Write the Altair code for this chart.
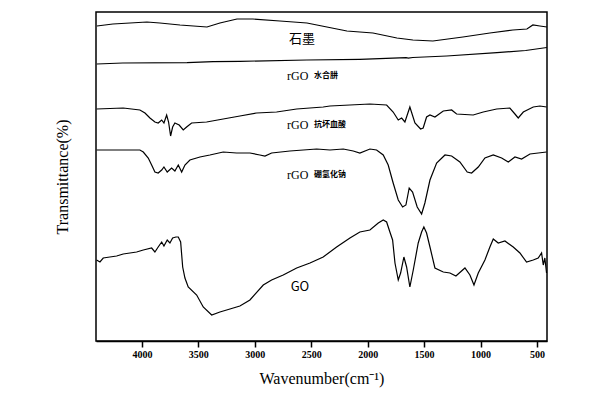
import altair as alt
import pandas as pd

# ---- data (wavenumber, relative transmittance offset) ----
wn_graphite = [4399, 4257, 4106, 3956, 3841, 3663, 3424, 3309, 3158, 3017, 2777, 2538, 2361, 2184,
               1953, 1741, 1599, 1422, 1156, 917, 713, 589, 536, 474, 412]
t_graphite = [315, 317, 318, 319, 318, 316, 314, 318, 322, 322, 320, 318, 314, 310,
              308, 303, 301, 300, 304, 308, 311, 312, 316, 315, 314]

wn_hydrazine = [4400, 4170, 3600, 3370, 3130, 2540, 2070, 1660, 1640, 1600, 1300, 855, 600, 412]
t_hydrazine = [277, 278, 278.3, 279.3, 279.7, 281, 281.7, 283.3, 282.8, 283.5, 285, 288.3, 290.5, 293.5]

wn_ascorbic = [4402, 4166, 4018, 3973, 3929, 3885, 3856, 3825, 3805, 3781, 3764, 3746, 3728, 3708,
               3670, 3634, 3604, 3560, 3427, 3280, 3132, 2984, 2807, 2629, 2394, 2334, 2157, 1980,
               1832, 1774, 1729, 1699, 1670, 1626, 1581, 1531, 1508, 1478, 1448, 1404, 1330, 1256,
               1212, 1065, 976, 857, 740, 695, 666, 621, 533, 474, 415]
t_ascorbic = [232, 233, 231, 228, 223, 219, 218, 221, 218, 226, 219, 205, 214, 218,
              216, 211, 214, 218, 219, 222, 225, 228, 229, 232, 234, 235, 236, 237,
              236, 229, 221, 223, 219, 234, 218, 212, 213, 224, 226, 224, 230, 231,
              227, 226, 229, 232, 233, 227, 223, 229, 234, 235, 234]

wn_borohydride = [4402, 4018, 3988, 3944, 3914, 3885, 3856, 3825, 3805, 3776, 3737, 3708, 3678, 3648,
                  3619, 3575, 3486, 3398, 3280, 3161, 3043, 2955, 2910, 2851, 2689, 2452, 2334, 2216,
                  2128, 2069, 1980, 1921, 1862, 1818, 1774, 1729, 1690, 1661, 1632, 1602, 1561, 1522,
                  1493, 1448, 1389, 1315, 1256, 1183, 1118, 1079, 1020, 961, 887, 813, 754, 695,
                  636, 562, 415]
t_borohydride = [191, 191, 189, 183, 176, 169, 168, 171, 174, 169, 173, 170, 176, 169,
                 176, 181, 184, 186, 189, 188, 188, 186, 185, 188, 190, 192, 191, 192,
                 190, 188, 192, 191, 186, 176, 158, 141, 134, 136, 153, 149, 134, 127,
                 138, 161, 178, 186, 185, 179, 169, 168, 174, 183, 186, 183, 179, 184,
                 182, 187, 189]

wn_go = [4402, 4372, 4343, 4284, 4224, 4166, 4106, 4047, 3988, 3914, 3885, 3856, 3825, 3805,
         3776, 3752, 3728, 3699, 3678, 3657, 3639, 3619, 3590, 3515, 3457, 3382, 3309, 3220,
         3132, 3043, 2925, 2851, 2748, 2629, 2511, 2394, 2275, 2157, 2069, 1980, 1906, 1862,
         1832, 1803, 1779, 1758, 1729, 1708, 1679, 1655, 1626, 1596, 1552, 1522, 1502, 1478,
         1448, 1404, 1330, 1271, 1218, 1138, 1094, 1058, 1020, 961, 917, 887, 843, 784,
         710, 651, 592, 533, 489, 459, 444, 430, 415]
t_go = [81, 79, 83, 84, 85, 87, 88, 89, 91, 93, 89, 94, 99, 95,
        101, 98, 103, 104, 104, 99, 74, 63, 54, 46, 34, 26, 29, 32,
        35, 41, 56, 61, 66, 73, 78, 84, 94, 103, 109, 111, 118, 121,
        119, 109, 101, 78, 61, 68, 84, 74, 54, 71, 98, 109, 114, 108,
        94, 73, 69, 68, 65, 73, 66, 56, 68, 81, 94, 102, 98, 100,
        94, 88, 79, 81, 83, 88, 76, 83, 68]

series = {
    "石墨": (wn_graphite, t_graphite),
    "rGO 水合肼": (wn_hydrazine, t_hydrazine),
    "rGO 抗坏血酸": (wn_ascorbic, t_ascorbic),
    "rGO 硼氢化钠": (wn_borohydride, t_borohydride),
    "GO": (wn_go, t_go),
}

# curve labels
rgo_x = [2715, 2715, 2715]
rgo_y = [265, 216, 166]
cn_text = ["水合肼", "抗坏血酸", "硼氢化钠"]
cn_x = [2475, 2475, 2475]
big_text = ["石墨", "GO"]
big_x = [2582, 2600]
big_y = [302, 54]

tick_values = [4250, 4000, 3750, 3500, 3250, 3000, 2750, 2500, 2250, 2000, 1750, 1500, 1250, 1000, 750, 500]

rows = []
for name, (xs, ys) in series.items():
    for x, y in zip(xs, ys):
        rows.append({"series": name, "wn": x, "t": y})
df = pd.DataFrame(rows)

xscale = alt.Scale(domain=[411, 4407], reverse=True, nice=False, zero=False)
yscale = alt.Scale(domain=[0, 329], nice=False, zero=False)

xaxis = alt.Axis(
    values=tick_values,
    labelExpr="datum.value % 500 === 0 ? datum.label : ''",
    format="d",
    tickSize={"condition": {"test": "datum.value % 500 === 0", "value": 6}, "value": 3},
    tickColor="black", tickWidth=1.5, domainColor="black", domainWidth=1.5,
    labelFont="Liberation Serif", labelFontWeight="bold", labelFontSize=10, labelColor="black",
    labelPadding=2,
    title="Wavenumber(cm⁻¹)", titleFont="Liberation Serif", titleFontSize=16,
    titleFontWeight="normal", titleColor="black", titlePadding=11, grid=False,
)
yaxis = alt.Axis(
    labels=False, ticks=False, domain=False, grid=False,
    title="Transmittance(%)", titleFont="Liberation Serif", titleFontSize=16,
    titleFontWeight="normal", titleColor="black", titlePadding=26,
)

lines = alt.Chart(df).mark_line(color="black", strokeWidth=1.2).encode(
    x=alt.X("wn:Q", scale=xscale, axis=xaxis),
    y=alt.Y("t:Q", scale=yscale, axis=yaxis),
    detail="series:N",
    order=alt.Order("wn:Q", sort="descending"),
)

rgo_df = pd.DataFrame({"x": rgo_x, "y": rgo_y, "text": ["rGO"] * 3})
cn_df = pd.DataFrame({"x": cn_x, "y": rgo_y, "text": cn_text})
big_df = pd.DataFrame({"x": big_x, "y": big_y, "text": big_text})

rgo_labels = alt.Chart(rgo_df).mark_text(
    align="left", baseline="middle", font="Liberation Serif", fontSize=12, color="black"
).encode(x=alt.X("x:Q", scale=xscale), y=alt.Y("y:Q", scale=yscale), text="text:N")

cn_labels = alt.Chart(cn_df).mark_text(
    align="left", baseline="middle", font="Noto Sans CJK SC", fontSize=8, fontWeight="bold", color="black"
).encode(x=alt.X("x:Q", scale=xscale), y=alt.Y("y:Q", scale=yscale), text="text:N")

big_labels = alt.Chart(big_df).mark_text(
    align="center", baseline="middle", font="Noto Sans CJK SC", fontSize=13, color="black"
).encode(x=alt.X("x:Q", scale=xscale), y=alt.Y("y:Q", scale=yscale), text="text:N")

chart = alt.layer(lines, rgo_labels, cn_labels, big_labels).properties(
    width=451, height=329,
    autosize="none",
    padding={"left": 88, "top": 4, "right": 45, "bottom": 51},
    background="white",
).configure_view(stroke="black", strokeWidth=1.5)

chart.save("out.html", embed_options={"renderer": "svg", "actions": False})
